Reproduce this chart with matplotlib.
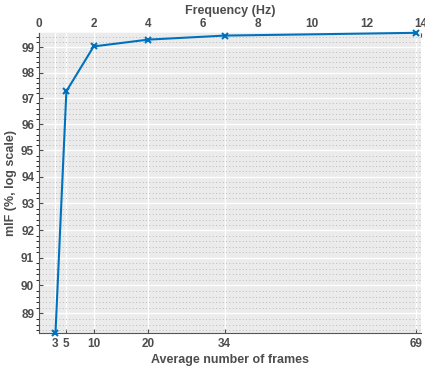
import numpy as np
import matplotlib.pyplot as plt
from matplotlib.ticker import FixedLocator, NullFormatter

frames = [3, 5, 10, 20, 34, 69]
mif = [88.3, 97.27, 99.03, 99.3, 99.46, 99.57]
frame_ticks = [3, 5, 10, 20, 34, 69]
freq_ticks = [0, 2, 4, 6, 8, 10, 12, 14]
y_ticks = [89, 90, 91, 92, 93, 94, 95, 96, 97, 98, 99]

txt = "#4d4d4d"
plt.rcParams['font.family'] = ['Liberation Sans', 'DejaVu Sans']
plt.rcParams['font.weight'] = 'bold'

fig = plt.figure(figsize=(4.25, 3.73), dpi=100)
ax = fig.add_axes([0.092, 0.107, 0.899, 0.805])
ax.set_facecolor("#ebebeb")

ax.plot(frames, mif, "-x", color="#0072BD", linewidth=1.5, markersize=5, markeredgewidth=1.5, zorder=5, clip_on=False)

ax.set_yscale("log")
ax.set_xlim(0, 70)
ax.set_ylim(min(mif), max(mif))
ax.yaxis.set_major_locator(FixedLocator(y_ticks))
ax.set_yticklabels([str(t) for t in y_ticks])
ax.yaxis.set_minor_locator(FixedLocator(np.arange(88.4, 99.6, 0.2)))
ax.yaxis.set_minor_formatter(NullFormatter())
ax.set_xticks(frame_ticks)

ax.grid(True, which="major", color="white", linewidth=1.0)
ax.grid(True, axis="y", which="minor", color="#a8a8a8", linestyle=(0, (1, 3)), linewidth=0.6)
ax.set_axisbelow(True)

for s in ["right", "top"]:
    ax.spines[s].set_visible(False)
for s in ["left", "bottom"]:
    ax.spines[s].set_color("#555555")
ax.tick_params(axis="both", colors=txt, labelsize=8.5, length=3, direction="in")
ax.tick_params(axis="y", which="minor", length=2)
ax.set_xlabel("Average number of frames", color=txt, fontsize=9, fontweight="bold", labelpad=3)
ax.set_ylabel("mIF (%, log scale)", color=txt, fontsize=9, fontweight="bold", labelpad=3)

ax2 = ax.twiny()
ax2.set_xlim(0, 14)
ax2.set_xticks(freq_ticks)
for s in ["right", "left", "bottom"]:
    ax2.spines[s].set_visible(False)
ax2.spines["top"].set_color("#999999")
ax2.grid(True, axis="x", color="white", linewidth=1.0)
ax2.set_axisbelow(True)
ax2.tick_params(axis="x", colors=txt, labelsize=8.5, length=3, direction="in", pad=2)
ax2.set_xlabel("Frequency (Hz)", color=txt, fontsize=9, fontweight="bold", labelpad=3)
ax2.patch.set_visible(False)
ax.set_zorder(1)

fig.savefig("out.png", dpi=100)
